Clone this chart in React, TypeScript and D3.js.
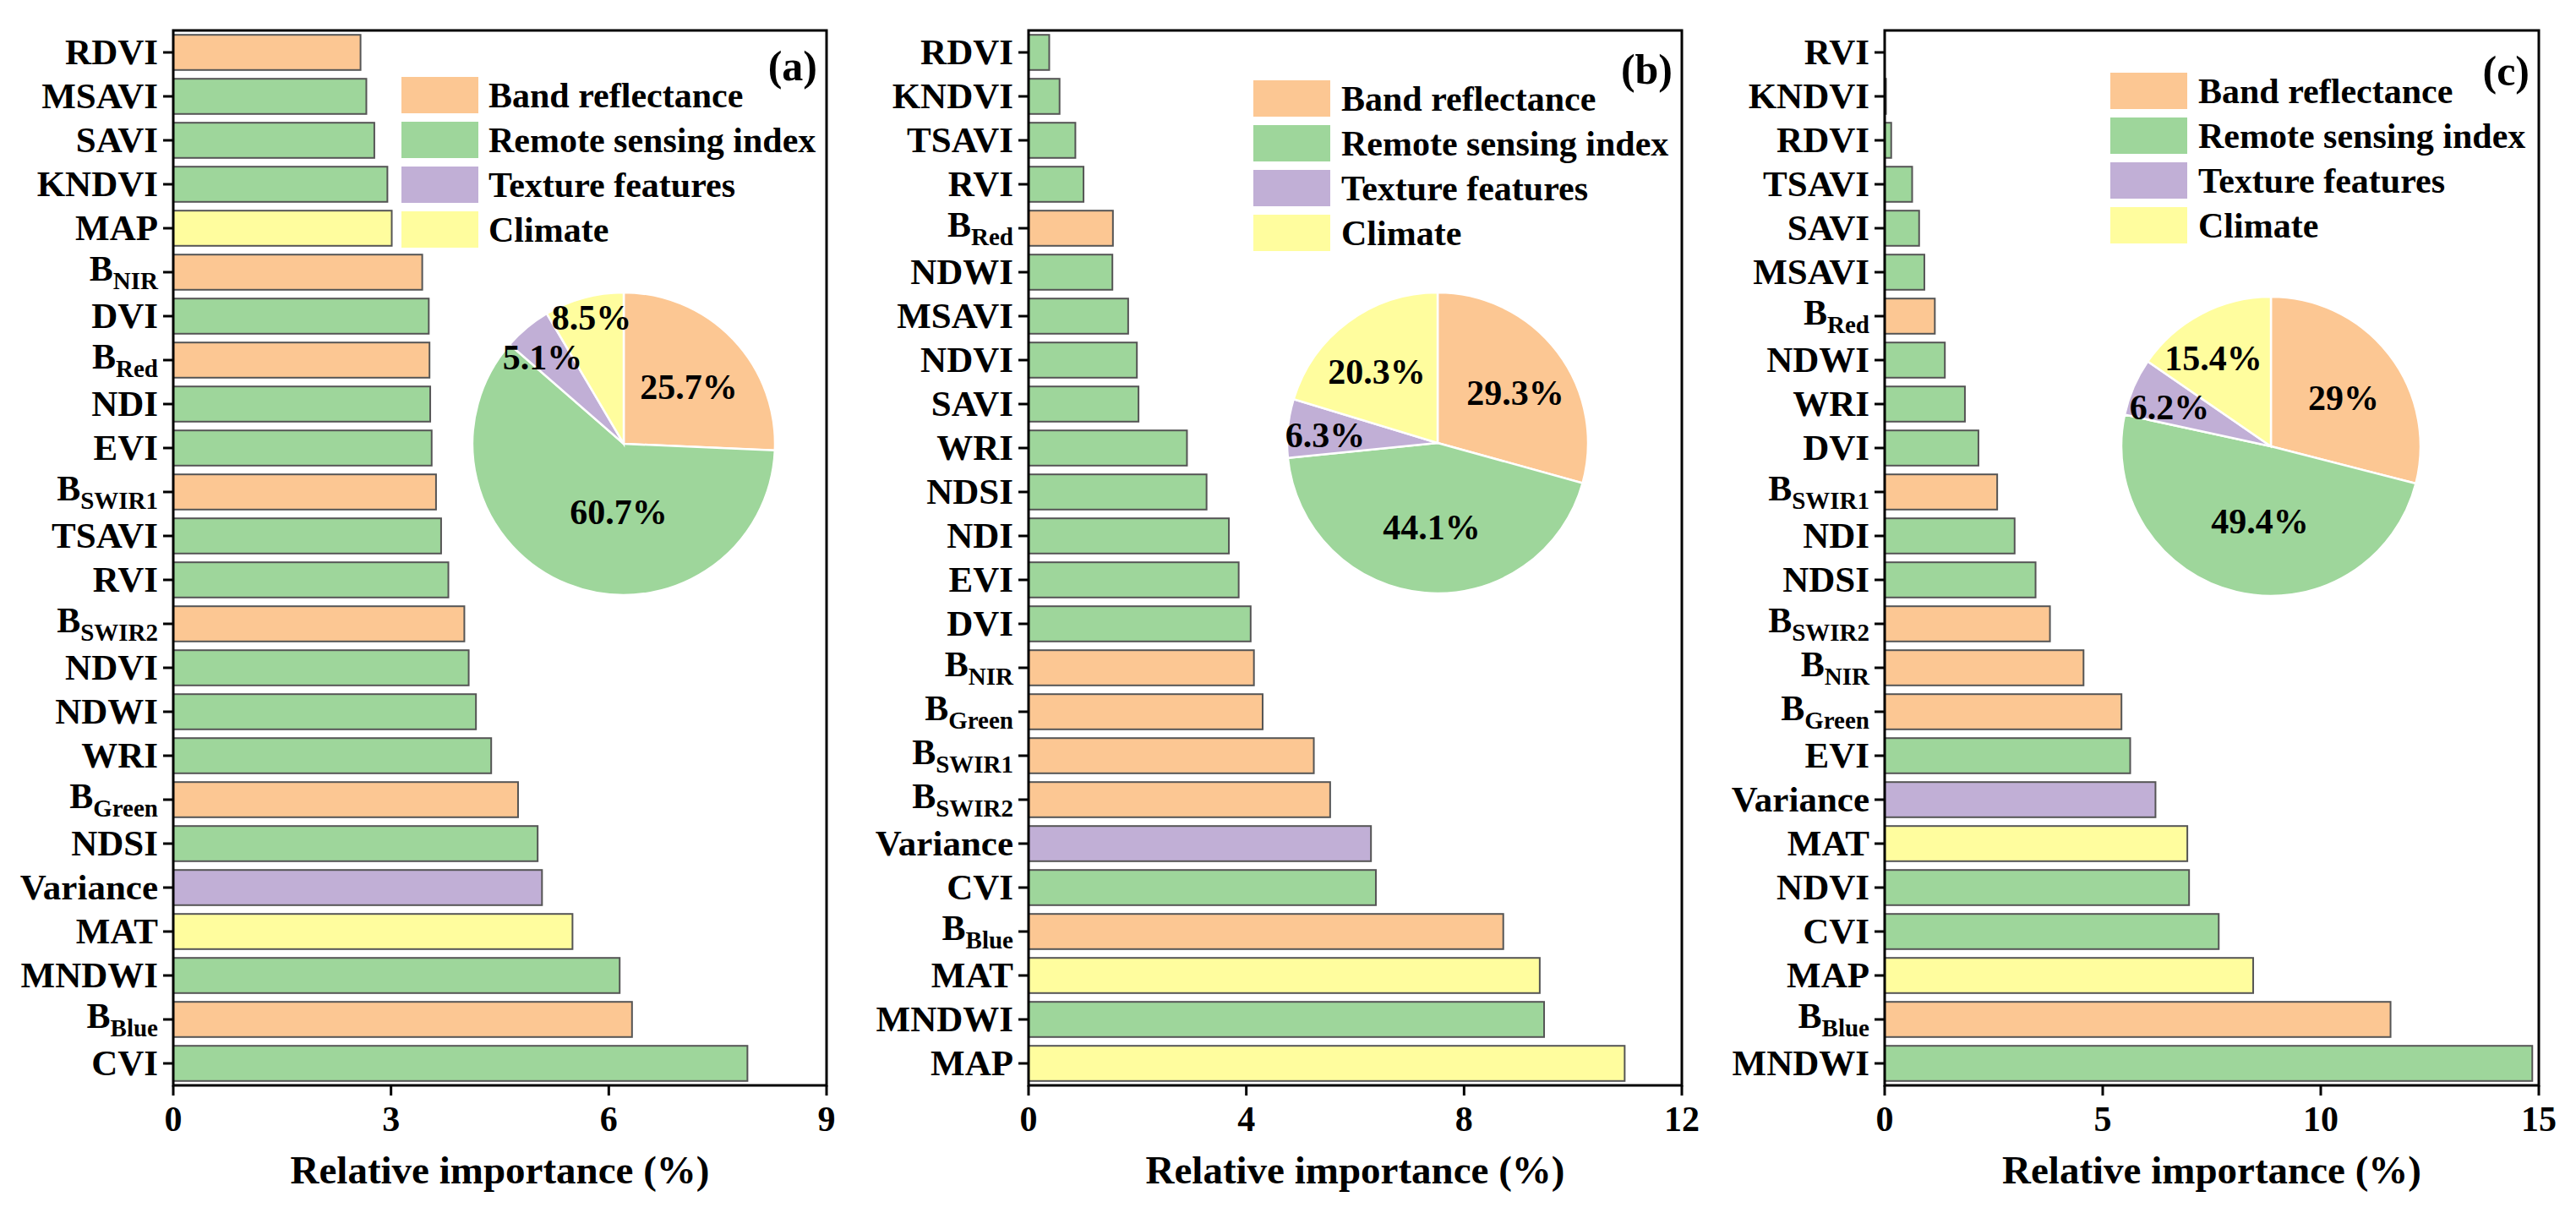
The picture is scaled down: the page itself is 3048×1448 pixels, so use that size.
import React from "react";
import * as d3 from "d3";

// ---------- DATA ----------
// group codes: B = band reflectance, R = remote sensing index, T = texture features, C = climate
const catsA = ["RDVI","MSAVI","SAVI","KNDVI","MAP","B_NIR","DVI","B_Red","NDI","EVI","B_SWIR1","TSAVI","RVI","B_SWIR2","NDVI","NDWI","WRI","B_Green","NDSI","Variance","MAT","MNDWI","B_Blue","CVI"];
const valsA = [2.58,2.66,2.77,2.95,3.01,3.43,3.52,3.53,3.54,3.56,3.62,3.69,3.79,4.01,4.07,4.17,4.38,4.75,5.02,5.08,5.50,6.15,6.32,7.91];
const grpA = ["B","R","R","R","C","B","R","B","R","R","B","R","R","B","R","R","R","B","R","T","C","R","B","R"];

const catsB = ["RDVI","KNDVI","TSAVI","RVI","B_Red","NDWI","MSAVI","NDVI","SAVI","WRI","NDSI","NDI","EVI","DVI","B_NIR","B_Green","B_SWIR1","B_SWIR2","Variance","CVI","B_Blue","MAT","MNDWI","MAP"];
const valsB = [0.38,0.57,0.86,1.01,1.55,1.54,1.83,1.99,2.02,2.91,3.27,3.68,3.86,4.08,4.14,4.30,5.24,5.54,6.29,6.38,8.72,9.39,9.47,10.95];
const grpB = ["R","R","R","R","B","R","R","R","R","R","R","R","R","R","B","B","B","B","T","R","B","C","R","C"];

const catsC = ["RVI","KNDVI","RDVI","TSAVI","SAVI","MSAVI","B_Red","NDWI","WRI","DVI","B_SWIR1","NDI","NDSI","B_SWIR2","B_NIR","B_Green","EVI","Variance","MAT","NDVI","CVI","MAP","B_Blue","MNDWI"];
const valsC = [0,0.03,0.15,0.63,0.79,0.91,1.15,1.38,1.84,2.15,2.58,2.98,3.46,3.79,4.56,5.43,5.63,6.21,6.94,6.98,7.66,8.45,11.6,14.85];
const grpC = ["R","R","R","R","R","R","B","R","R","R","B","R","R","B","B","B","R","T","C","R","R","C","B","R"];

const groupCodes = ["B","R","T","C"];
const groups = ["Band reflectance","Remote sensing index","Texture features","Climate"];
const pieA = [25.7, 60.7, 5.1, 8.5];
const pieB = [29.3, 44.1, 6.3, 20.3];
const pieC = [29, 49.4, 6.2, 15.4];

const ticksA = [0, 3, 6, 9];
const ticksB = [0, 4, 8, 12];
const ticksC = [0, 5, 10, 15];

const panelLetters = ["(a)", "(b)", "(c)"];
const axisTitle = "Relative importance (%)";

// ---------- STYLE / LAYOUT ----------
const groupColors = ["#FCC793", "#9ED69B", "#C1AFD6", "#FFFD9E"];
const FONT = "'Liberation Serif', 'Times New Roman', Times, serif";

const TOP = 36;
const BOTTOM = 1284;

const panels = [
  {
    cats: catsA, vals: valsA, grp: grpA, pie: pieA, ticks: ticksA, letter: panelLetters[0],
    left: 205, right: 978,
    pieC: [738, 525], pieR: 179,
    labelOff: [[77, -68], [-6, 80], [-96, -103], [-38, -150]],
    legendX: 475, legendTextX: 578, legendTop: 91, letterY: 95,
  },
  {
    cats: catsB, vals: valsB, grp: grpB, pie: pieB, ticks: ticksB, letter: panelLetters[1],
    left: 1217, right: 1990,
    pieC: [1701, 524], pieR: 178,
    labelOff: [[92, -60], [-7, 99], [-133, -10], [-72, -85]],
    legendX: 1483, legendTextX: 1587, legendTop: 95, letterY: 99,
  },
  {
    cats: catsC, vals: valsC, grp: grpC, pie: pieC, ticks: ticksC, letter: panelLetters[2],
    left: 2230, right: 3004,
    pieC: [2687, 528], pieR: 177,
    labelOff: [[86, -58], [-13, 88], [-120, -47], [-68, -105]],
    legendX: 2497, legendTextX: 2601, legendTop: 86, letterY: 101,
  },
];

function CatLabel({ name, x, cy }: { name: string; x: number; cy: number }) {
  if (name.startsWith("B_")) {
    const sub = name.slice(2);
    return (
      <text x={x} y={cy + 10} textAnchor="end" fontFamily={FONT} fontWeight="bold" fontSize={42} fill="#000">
        <tspan>B</tspan>
        <tspan fontSize={29} dy={10}>{sub}</tspan>
      </text>
    );
  }
  return (
    <text x={x} y={cy + 14} textAnchor="end" fontFamily={FONT} fontWeight="bold" fontSize={43} fill="#000">
      {name}
    </text>
  );
}

function Panel({ p }: { p: (typeof panels)[number] }) {
  const x = d3.scaleLinear().domain([p.ticks[0], p.ticks[p.ticks.length - 1]]).range([p.left, p.right]);
  const y = d3.scaleBand<string>().domain(p.cats).range([TOP, BOTTOM]).paddingInner(0.2).paddingOuter(0.1);
  const pieGen = d3.pie<number>().sort(null).value((d) => d);
  const arcs = pieGen(p.pie);
  const arcGen = d3.arc<d3.PieArcDatum<number>>().innerRadius(0).outerRadius(p.pieR);
  const color = d3.scaleOrdinal<string, string>().domain(groupCodes).range(groupColors);

  return (
    <g>
      {/* bars */}
      {p.cats.map((c, i) =>
        p.vals[i] > 0 ? (
          <rect
            key={c}
            x={x(0)}
            y={y(c)!}
            width={x(p.vals[i]) - x(0)}
            height={y.bandwidth()}
            fill={color(p.grp[i])}
            stroke="#555"
            strokeWidth={2}
          />
        ) : null
      )}

      {/* y ticks & labels */}
      {p.cats.map((c) => {
        const cy = y(c)! + y.bandwidth() / 2;
        return (
          <g key={"yl" + c}>
            <line x1={p.left - 12} x2={p.left} y1={cy} y2={cy} stroke="#000" strokeWidth={3} />
            <CatLabel name={c} x={p.left - 18} cy={cy} />
          </g>
        );
      })}

      {/* x ticks & labels */}
      {p.ticks.map((t) => (
        <g key={"xt" + t}>
          <line x1={x(t)} x2={x(t)} y1={BOTTOM} y2={BOTTOM + 12} stroke="#000" strokeWidth={3} />
          <text x={x(t)} y={BOTTOM + 54} textAnchor="middle" fontFamily={FONT} fontWeight="bold" fontSize={42} fill="#000">
            {t}
          </text>
        </g>
      ))}

      {/* axis title */}
      <text x={(p.left + p.right) / 2} y={1400} textAnchor="middle" fontFamily={FONT} fontWeight="bold" fontSize={47} fill="#000">
        {axisTitle}
      </text>

      {/* frame */}
      <rect x={p.left} y={TOP} width={p.right - p.left} height={BOTTOM - TOP} fill="none" stroke="#000" strokeWidth={3} />

      {/* panel letter */}
      <text x={p.right - 11} y={p.letterY} textAnchor="end" fontFamily={FONT} fontWeight="bold" fontSize={50} fill="#000">
        {p.letter}
      </text>

      {/* legend */}
      {groups.map((g, i) => (
        <g key={"lg" + g}>
          <rect x={p.legendX} y={p.legendTop + i * 53} width={91} height={43} fill={groupColors[i]} />
          <text x={p.legendTextX} y={p.legendTop + i * 53 + 36} fontFamily={FONT} fontWeight="bold" fontSize={42} fill="#000">
            {g}
          </text>
        </g>
      ))}

      {/* pie */}
      <g transform={`translate(${p.pieC[0]},${p.pieC[1]})`}>
        {arcs.map((a, i) => (
          <path key={"arc" + i} d={arcGen(a)!} fill={groupColors[i]} stroke="#fff" strokeWidth={2.5} />
        ))}
        {arcs.map((a, i) => (
          <text
            key={"pl" + i}
            x={p.labelOff[i][0]}
            y={p.labelOff[i][1]}
            dy="0.35em"
            textAnchor="middle"
            fontFamily={FONT}
            fontWeight="bold"
            fontSize={42}
            fill="#000"
          >
            {`${a.value}%`}
          </text>
        ))}
      </g>
    </g>
  );
}

export default function App() {
  return (
    <svg
      width={3048}
      height={1448}
      viewBox="0 0 3048 1448"
      style={{ position: "absolute", left: 0, top: 0, background: "#fff" }}
    >
      <rect x={0} y={0} width={3048} height={1448} fill="#fff" />
      {panels.map((p, i) => (
        <Panel key={i} p={p} />
      ))}
    </svg>
  );
}
